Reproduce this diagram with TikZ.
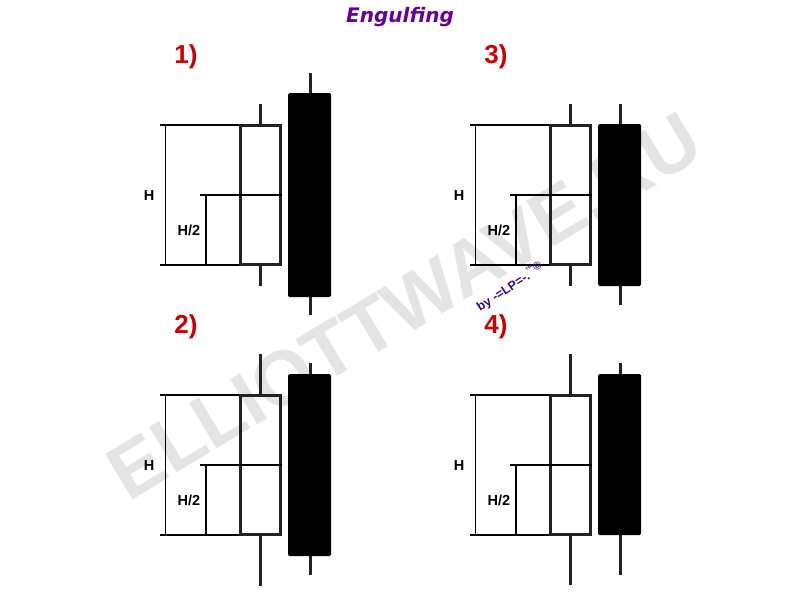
\documentclass[tikz,border=0pt]{standalone}
\usepackage{fontspec}
\setmainfont{Liberation Sans}
\newfontfamily\titlefont{DejaVu Sans}
\definecolor{titlepurple}{HTML}{660099}
\definecolor{lblred}{HTML}{CC0000}
\definecolor{bypurple}{HTML}{3A0A8A}
\definecolor{wmgray}{HTML}{E4E4E4}
\definecolor{edgegray}{HTML}{222222}
\tikzset{
  thinln/.style={draw=black, line width=1.1pt},
  midln/.style={draw=black, line width=2.4pt},
  wick/.style={draw=edgegray, line width=3pt},
  body/.style={draw=edgegray, line width=3pt},
  blackbody/.style={fill=black, rounded corners=1.5pt},
  lbl/.style={anchor=base, text=lblred, font=\bfseries\fontsize{26}{30}\selectfont, inner sep=0pt},
  hl/.style={anchor=base, text=black, font=\bfseries\fontsize{14.5}{17}\selectfont, inner sep=0pt},
}
\newcommand\candlepanel[9]{%
\begin{scope}[shift={(#1,#2)}]
  \draw[thinln] (160,125) -- (240,125);
  \draw[thinln] (160,265) -- (240,265);
  \draw[thinln] (165.7,125) -- (165.7,265);
  \draw[thinln] (206,195) -- (206,265);
  \draw[wick] (260,#3) -- (260,125);
  \draw[wick] (260,265) -- (260,#4);
  \draw[body] (240.5,125.5) rectangle (280.2,264.7);
  \draw[midln] (200,195) -- (282,195);
  \draw[wick] (310,#5) -- (310,#6);
  \draw[wick] (310,#7) -- (310,#8);
  \fill[blackbody] (288,#6) rectangle (331,#7);
  \node[lbl] (num#9) at (186,63) {#9)};
  \node[hl] (h#9) at (149,200) {H};
  \node[hl] (hh#9) at (189,235.7) {H/2};
\end{scope}}
\begin{document}
\begin{tikzpicture}[x=1pt,y=-1pt]
\useasboundingbox (0,0) rectangle (800,600);
\fill[white] (0,0) rectangle (800,600);
\node[rotate=31, text=wmgray, font=\bfseries\fontsize{77}{80}\selectfont, inner sep=0pt] (wm) at (404,306) {ELLIOTTWAVE.RU};
\node[anchor=base, text=titlepurple, font=\titlefont\bfseries\itshape\fontsize{20}{24}\selectfont, inner sep=0pt] (title) at (400,22) {Engulfing};
\candlepanel{0}{0}{104}{286}{73}{93}{297}{315}{1}
\candlepanel{0}{270}{84}{316}{93}{104}{286}{305}{2}
\candlepanel{310}{0}{104}{286}{104}{124}{286}{305}{3}
\candlepanel{310}{270}{84}{315}{93}{104}{265}{305}{4}
\node[rotate=33, text=bypurple, font=\bfseries\fontsize{12.5}{14}\selectfont, inner sep=0pt] (by) at (510,287) {by -=LP=-.\raisebox{0.45em}{\fontsize{8}{9}\selectfont ™}\raisebox{0.25em}{\fontsize{11}{12}\selectfont ©}};
\end{tikzpicture}
\end{document}
